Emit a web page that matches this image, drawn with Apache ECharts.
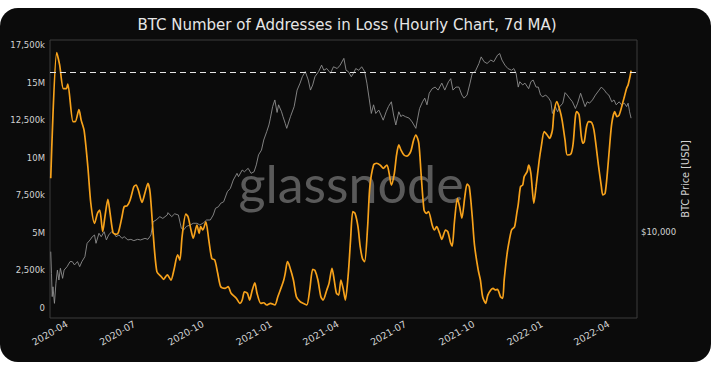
<!DOCTYPE html>
<html><head><meta charset="utf-8">
<script src="https://cdn.jsdelivr.net/npm/echarts@6/dist/echarts.min.js"></script>
<style>
html,body{margin:0;padding:0;background:#fff;width:719px;height:365px;overflow:hidden}
#card{position:absolute;left:0;top:8px;width:711px;height:354px;background:#0b0b0b;border-radius:18px}
#chart{position:absolute;left:0;top:0;width:719px;height:365px}
</style></head><body><div id="card"></div><div id="chart"></div>
<script>
const titleText = 'BTC Number of Addresses in Loss (Hourly Chart, 7d MA)';
const rightAxisName = 'BTC Price [USD]';
const xTickLabels = ['2020-04','2020-07','2020-10','2021-01','2021-04','2021-07','2021-10','2022-01','2022-04'];
const leftTickValues = [0,2500000,5000000,7500000,10000000,12500000,15000000,17500000];
const leftTickLabels = ['0','2,500k','5M','7,500k','10M','12,500k','15M','17,500k'];
const thresholdValue = 15680000;

const lossDates = ['2020-03-10','2020-03-18','2020-03-22','2020-03-27','2020-03-31','2020-04-02','2020-04-09','2020-04-12','2020-04-17','2020-04-20','2020-04-24','2020-04-29','2020-05-03','2020-05-08','2020-05-12','2020-05-15','2020-05-19','2020-05-22','2020-05-26','2020-05-29','2020-06-02','2020-06-06','2020-06-09','2020-06-14','2020-06-17','2020-06-21','2020-06-25','2020-06-30','2020-07-03','2020-07-06','2020-07-11','2020-07-15','2020-07-19','2020-07-22','2020-07-26','2020-07-31','2020-08-06','2020-08-09','2020-08-14','2020-08-19','2020-08-23','2020-08-28','2020-08-31','2020-09-03','2020-09-08','2020-09-11','2020-09-15','2020-09-18','2020-09-23','2020-09-26','2020-09-28','2020-10-01','2020-10-05','2020-10-09','2020-10-13','2020-10-17','2020-10-21','2020-10-25','2020-10-31','2020-11-04','2020-11-08','2020-11-15','2020-11-20','2020-11-23','2020-11-26','2020-11-30','2020-12-03','2020-12-06','2020-12-10','2020-12-13','2020-12-18','2020-12-22','2020-12-26','2020-12-31','2021-01-06','2021-01-10','2021-01-15','2021-01-18','2021-01-20','2021-01-23','2021-01-26','2021-01-31','2021-02-04','2021-02-09','2021-02-13','2021-02-18','2021-02-22','2021-02-26','2021-03-01','2021-03-05','2021-03-09','2021-03-12','2021-03-17','2021-03-20','2021-03-24','2021-03-27','2021-03-30','2021-04-02','2021-04-05','2021-04-08','2021-04-11','2021-04-15','2021-04-18','2021-04-21','2021-04-24','2021-04-28','2021-05-01','2021-05-04','2021-05-07','2021-05-11','2021-05-14','2021-05-19','2021-05-23','2021-05-28','2021-06-01','2021-06-06','2021-06-09','2021-06-12','2021-06-16','2021-06-19','2021-06-22','2021-06-25','2021-06-29','2021-07-03','2021-07-08','2021-07-12','2021-07-15','2021-07-19','2021-07-22','2021-07-26','2021-07-29','2021-08-01','2021-08-06','2021-08-09','2021-08-12','2021-08-16','2021-08-19','2021-08-24','2021-08-27','2021-08-31','2021-09-02','2021-09-05','2021-09-09','2021-09-12','2021-09-15','2021-09-19','2021-09-22','2021-09-25','2021-09-29','2021-10-02','2021-10-07','2021-10-10','2021-10-13','2021-10-17','2021-10-20','2021-10-24','2021-10-27','2021-10-30','2021-11-02','2021-11-06','2021-11-09','2021-11-11','2021-11-15','2021-11-18','2021-11-21','2021-11-25','2021-11-28','2021-11-30','2021-12-03','2021-12-06','2021-12-08','2021-12-12','2021-12-14','2021-12-17','2021-12-21','2021-12-24','2021-12-28','2021-12-31','2022-01-04','2022-01-08','2022-01-11','2022-01-15','2022-01-17','2022-01-21','2022-01-25','2022-01-28','2022-02-01','2022-02-04','2022-02-09','2022-02-12','2022-02-15','2022-02-17','2022-02-20','2022-02-23','2022-02-25','2022-02-27','2022-03-02','2022-03-05','2022-03-09','2022-03-12','2022-03-15','2022-03-18','2022-03-22','2022-03-24','2022-03-27','2022-03-30','2022-04-02','2022-04-05','2022-04-09','2022-04-12','2022-04-15','2022-04-19','2022-04-22','2022-04-25','2022-04-27','2022-04-30','2022-05-01'];
const lossValues = [8630000,17000000,16170000,14600000,14600000,14900000,12400000,12400000,13200000,12500000,11800000,9400000,6970000,5630000,6300000,6520000,5080000,6070000,7230000,6300000,5010000,4900000,5000000,6070000,6740000,6800000,7190000,8070000,8180000,7850000,7030000,7670000,8300000,7630000,4970000,2420000,2080000,1910000,2200000,1860000,2530000,3530000,3190000,4750000,6250000,6070000,5190000,4640000,5520000,4970000,5410000,5190000,5740000,4520000,3300000,3190000,2310000,1420000,1310000,1420000,980000,650000,310000,530000,1080000,980000,530000,1080000,1680000,980000,310000,350000,200000,310000,200000,750000,1420000,1860000,2310000,3080000,2750000,1860000,750000,420000,310000,200000,1200000,2570000,2500000,1860000,750000,530000,1200000,1640000,2640000,1860000,980000,860000,1860000,1310000,530000,2310000,4520000,6410000,6300000,5410000,4080000,3300000,3080000,5410000,8070000,9510000,9630000,9510000,9290000,9510000,8960000,8180000,8960000,10180000,10850000,10510000,10180000,10100000,10400000,11180000,11510000,10960000,8960000,6520000,6300000,6410000,5520000,5190000,5410000,4970000,4570000,5190000,5080000,4300000,4120000,5740000,7300000,6740000,5970000,7410000,8250000,8070000,6070000,4190000,2530000,1860000,750000,310000,860000,1200000,1310000,1200000,1240000,750000,640000,1860000,3640000,4520000,5190000,5410000,6300000,6900000,8070000,8180000,8740000,9070000,9510000,8960000,6970000,8070000,9740000,10730000,11730000,11510000,11290000,11840000,12950000,13730000,13170000,12510000,11180000,10180000,10250000,10960000,12730000,13060000,12840000,11400000,10960000,11070000,12060000,12400000,12330000,11840000,10730000,9510000,8070000,7520000,7630000,8960000,10730000,12290000,13060000,12730000,12840000,13510000,14060000,14620000,14840000,15500000,15790000];

const priceDates = ['2020-03-10','2020-03-11','2020-03-12','2020-03-13','2020-03-15','2020-03-17','2020-03-19','2020-03-21','2020-03-23','2020-03-26','2020-03-28','2020-04-01','2020-04-05','2020-04-08','2020-04-11','2020-04-15','2020-04-18','2020-04-21','2020-04-25','2020-04-28','2020-05-02','2020-05-05','2020-05-08','2020-05-10','2020-05-14','2020-05-17','2020-05-21','2020-05-24','2020-05-27','2020-05-31','2020-06-04','2020-06-06','2020-06-10','2020-06-14','2020-06-17','2020-06-22','2020-06-26','2020-06-30','2020-07-05','2020-07-09','2020-07-15','2020-07-19','2020-07-23','2020-07-26','2020-07-30','2020-08-04','2020-08-08','2020-08-14','2020-08-15','2020-08-20','2020-08-24','2020-08-29','2020-09-02','2020-09-05','2020-09-09','2020-09-14','2020-09-18','2020-09-23','2020-09-27','2020-10-02','2020-10-06','2020-10-11','2020-10-15','2020-10-18','2020-10-22','2020-10-25','2020-10-29','2020-11-03','2020-11-07','2020-11-11','2020-11-16','2020-11-18','2020-11-23','2020-11-26','2020-12-01','2020-12-05','2020-12-09','2020-12-12','2020-12-15','2020-12-19','2020-12-22','2020-12-26','2020-12-29','2020-12-31','2021-01-03','2021-01-06','2021-01-09','2021-01-11','2021-01-15','2021-01-17','2021-01-20','2021-01-22','2021-01-27','2021-02-01','2021-02-05','2021-02-09','2021-02-12','2021-02-16','2021-02-20','2021-02-23','2021-02-26','2021-03-01','2021-03-06','2021-03-10','2021-03-13','2021-03-17','2021-03-22','2021-03-26','2021-03-31','2021-04-04','2021-04-09','2021-04-12','2021-04-15','2021-04-19','2021-04-22','2021-04-25','2021-04-29','2021-05-03','2021-05-07','2021-05-10','2021-05-13','2021-05-16','2021-05-19','2021-05-22','2021-05-26','2021-05-29','2021-06-01','2021-06-05','2021-06-08','2021-06-12','2021-06-15','2021-06-18','2021-06-22','2021-06-25','2021-06-27','2021-07-01','2021-07-06','2021-07-10','2021-07-15','2021-07-17','2021-07-20','2021-07-24','2021-07-27','2021-07-30','2021-08-02','2021-08-06','2021-08-10','2021-08-14','2021-08-19','2021-08-23','2021-08-28','2021-08-31','2021-09-03','2021-09-07','2021-09-11','2021-09-15','2021-09-18','2021-09-22','2021-09-26','2021-09-29','2021-10-03','2021-10-08','2021-10-11','2021-10-15','2021-10-19','2021-10-24','2021-10-28','2021-11-02','2021-11-05','2021-11-08','2021-11-12','2021-11-16','2021-11-21','2021-11-24','2021-11-27','2021-11-30','2021-12-02','2021-12-06','2021-12-09','2021-12-14','2021-12-17','2021-12-20','2021-12-24','2021-12-27','2021-12-30','2022-01-02','2022-01-06','2022-01-10','2022-01-13','2022-01-15','2022-01-19','2022-01-22','2022-01-25','2022-01-29','2022-02-01','2022-02-04','2022-02-07','2022-02-11','2022-02-15','2022-02-18','2022-02-22','2022-02-25','2022-02-28','2022-03-03','2022-03-06','2022-03-10','2022-03-14','2022-03-19','2022-03-22','2022-03-26','2022-03-29','2022-04-01','2022-04-05','2022-04-08','2022-04-11','2022-04-15','2022-04-18','2022-04-22','2022-04-25','2022-04-27','2022-04-29','2022-05-01'];
const priceValues = [8070,6370,4940,5500,4590,5720,6600,5920,6730,6030,6600,6850,7240,7240,6980,7240,6850,7240,7640,8840,9170,9500,9680,8840,9860,9500,10030,9170,9680,10030,9750,9500,9680,9330,9500,9170,9230,9100,9230,9170,9330,9230,9680,11190,11400,11820,11600,12040,12350,11820,12200,12040,10410,10220,10640,10790,11000,11000,10790,11070,11400,11400,12040,12950,13180,13680,13900,15530,16100,17640,18970,18300,19670,19300,20040,18970,19300,20800,23200,24460,27290,29890,32160,34650,39300,42260,36870,40070,37140,35200,32720,31000,35200,39300,47060,50780,54450,57620,52540,47060,49760,54450,57620,61800,58420,59540,56580,60700,59540,61800,66540,58420,57620,54450,56580,59540,58420,60700,57620,50780,43110,36470,40070,36470,37860,35850,33890,37140,39300,41420,35850,32160,37140,35200,35850,35200,34650,33240,31000,33890,38480,41420,43110,40070,45470,47790,48630,47060,50780,47060,51580,53300,47060,48630,48630,44590,43110,44590,50780,56580,57620,62920,67620,64110,62920,65320,64110,68870,70130,65320,61800,59540,58420,59540,56580,48630,51580,49760,50780,47790,51580,52540,48630,48630,44590,43750,44590,43110,41420,36470,39300,37140,39300,40800,45770,44590,43110,41420,38480,40800,45470,42260,39300,41420,40800,42260,44590,47060,48630,47060,45470,44590,41420,42260,40070,41420,40070,40800,39300,40800,37140,34650];

const toTs = s => Date.parse(s + 'T00:00:00Z');
const xTickValues = xTickLabels.map(l => toTs(l + '-01'));
const xLabelFor = v => { const i = xTickValues.indexOf(v); return i >= 0 ? xTickLabels[i] : ''; };

const chart = echarts.init(document.getElementById('chart'), null, {renderer: 'svg'});
const txt = '#d2d2d2';
const font = 'DejaVu Sans';
chart.setOption({
  backgroundColor: 'transparent',
  animation: false,
  graphic: [
    {type: 'text', x: 347, y: 25, silent: true, style: {text: titleText, fill: '#e6e6e6', fontSize: 15, fontFamily: font, align: 'center', verticalAlign: 'middle'}},
    {type: 'text', x: 351, y: 183, z: -10, silent: true, style: {text: 'glassnode', fill: '#5a5a5a', fontSize: 52, fontFamily: 'Lato', align: 'center', verticalAlign: 'middle'}},
    {type: 'text', x: 685, y: 179, rotation: Math.PI / 2, silent: true, style: {text: rightAxisName, fill: txt, fontSize: 9.8, fontFamily: font, align: 'center', verticalAlign: 'middle'}}
  ],
  grid: {left: 50, top: 40, width: 587, height: 278, show: true, borderColor: '#3c3c3c', borderWidth: 1, backgroundColor: 'transparent', containLabel: false},
  xAxis: {
    type: 'value', min: toTs('2020-03-09'), max: toTs('2022-05-09'),
    axisLine: {show: false}, axisTick: {show: false}, splitLine: {show: false},
    axisLabel: {customValues: xTickValues, formatter: v => xLabelFor(v), rotate: 30, color: txt, fontSize: 9.5, fontFamily: font, margin: 5, hideOverlap: false}
  },
  yAxis: [
    {
      type: 'value', min: -665000, max: 17830000, position: 'left',
      axisLine: {show: false}, axisTick: {show: false}, splitLine: {show: false},
      axisLabel: {customValues: leftTickValues, formatter: v => leftTickLabels[leftTickValues.indexOf(v)], color: txt, fontSize: 8.5, fontFamily: font, margin: 5}
    },
    {
      type: 'log', logBase: 10, min: 3912, max: 81300, position: 'right',
      axisLine: {show: false}, axisTick: {show: false}, splitLine: {show: false},
      axisLabel: {showMinLabel: false, showMaxLabel: false, formatter: v => '$' + Math.round(v).toLocaleString('en-US'), color: txt, fontSize: 8.5, fontFamily: font, margin: 4}
    }
  ],
  series: [
    {
      name: 'BTC Price', type: 'line', yAxisIndex: 1, symbol: 'none', z: 2,
      data: priceDates.map((d, i) => [toTs(d), priceValues[i]]),
      lineStyle: {color: '#8e8e8e', width: 0.9}
    },
    {
      name: 'Addresses in Loss', type: 'line', yAxisIndex: 0, symbol: 'none', z: 3, smooth: 0.25,
      data: lossDates.map((d, i) => [toTs(d), lossValues[i]]),
      lineStyle: {color: '#f7a21b', width: 1.7},
      markLine: {silent: true, symbol: 'none', label: {show: false}, lineStyle: {color: '#e6e6e6', type: [6, 4], width: 1.2}, data: [{yAxis: thresholdValue}]}
    }
  ]
});
</script></body></html>
